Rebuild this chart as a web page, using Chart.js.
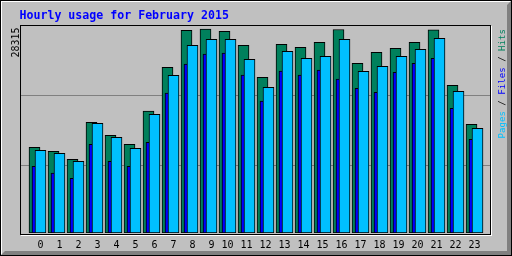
<!DOCTYPE html>
<html>
<head>
<meta charset="utf-8">
<script src="https://cdn.jsdelivr.net/npm/chart.js@4/dist/chart.umd.min.js"></script>
<style>
html,body{margin:0;padding:0;background:#c0c0c0}
canvas{display:block}
</style>
</head>
<body>
<canvas id="hourChart" width="512" height="256"></canvas>
<script>

/* ---------------- DATA ---------------- */

const hours = ["0","1","2","3","4","5","6","7","8","9","10","11","12","13","14","15","16","17","18","19","20","21","22","23"]

const hits = [11895,11340,10230,15365,13561,12312,16934,23000,28135,28315,27996,26053,21611,26192,25775,26469,28250,23554,25081,25636,26469,28200,20501,15088]
const files = [9258,8328,7592,12312,9952,9258,12589,19432,23457,24845,24984,21930,18322,22486,21930,22624,21375,20084,19529,22305,23554,24248,17308,13006]
const pages = [11479,11062,9952,15226,13283,11756,16476,21889,26053,26886,26886,24110,20223,25220,24248,24526,26886,22444,23138,24526,25497,27024,19668,14532]

const maxLabel = "28315"
const titleText = "Hourly usage for February 2015"


/* ---------------- COLOURS ---------------- */

const GRAY = "#c0c0c0"
const SHADOW = "#808080"
const HIT_COLOR = "#00805c"
const FILE_COLOR = "#0000ff"
const PAGE_COLOR = "#00c0ff"

const MONO = "'DejaVu Sans Mono', monospace"


/* bars sit 3px apart inside a 19px hour slot */
const SHIFT = 3/19

function points(values, shift){
return values.map((v,i)=>({x:i+shift,y:v}))
}


/* ---------------- FRAME PLUGIN ---------------- */

const framePlugin = {
id:"frame",

beforeDraw(chart){
const ctx = chart.ctx
ctx.save()
ctx.fillStyle = GRAY
ctx.fillRect(0,0,512,256)

// outer bevel
ctx.fillStyle = "#000"
ctx.fillRect(0,0,512,1)
ctx.fillRect(0,0,1,256)
ctx.fillRect(511,0,1,256)
ctx.fillRect(0,255,512,1)
ctx.fillStyle = "#fff"
ctx.fillRect(1,1,510,1)
ctx.fillRect(1,1,1,254)

ctx.fillStyle = SHADOW
ctx.beginPath()
ctx.moveTo(511,1); ctx.lineTo(511,255); ctx.lineTo(507,255); ctx.lineTo(507,5)
ctx.closePath(); ctx.fill()
ctx.beginPath()
ctx.moveTo(1,255); ctx.lineTo(511,255); ctx.lineTo(511,251); ctx.lineTo(5,251)
ctx.closePath(); ctx.fill()

// plot box
ctx.fillStyle = "#fff"
ctx.fillRect(21,235,471,1)
ctx.fillRect(491,26,1,210)
ctx.fillStyle = "#000"
ctx.fillRect(20,25,471,1)
ctx.fillRect(20,25,1,210)
ctx.fillRect(20,234,471,1)
ctx.fillRect(490,25,1,210)

// grid lines at thirds
ctx.fillStyle = SHADOW
ctx.fillRect(21,95,469,1)
ctx.fillRect(21,165,469,1)

// title
ctx.fillStyle = FILE_COLOR
ctx.font = "bold 11.6px " + MONO
ctx.textBaseline = "alphabetic"
ctx.textAlign = "left"
ctx.fillText(titleText,19.5,19)

// max value, rotated
ctx.save()
ctx.translate(19,57.5)
ctx.rotate(-Math.PI/2)
ctx.fillStyle = "#000"
ctx.font = "10px " + MONO
ctx.fillText(maxLabel,0,0)
ctx.restore()

// legend, rotated
ctx.save()
ctx.translate(504.5,138.5)
ctx.rotate(-Math.PI/2)
ctx.font = "9.1px " + MONO
const parts = [["Pages",PAGE_COLOR],[" / ","#000"],["Files",FILE_COLOR],[" / ","#000"],["Hits",HIT_COLOR]]
let x = 0
parts.forEach(p=>{
ctx.fillStyle = p[1]
ctx.fillText(p[0],x,0)
x += ctx.measureText(p[0]).width
})
ctx.restore()

ctx.restore()
}
}


/* ---------------- CHART ---------------- */

new Chart(document.getElementById("hourChart"),{
type:"bar",
data:{
datasets:[
{
label:"Hits",
data:points(hits,-SHIFT),
backgroundColor:HIT_COLOR,
order:3
},
{
label:"Files",
data:points(files,0),
backgroundColor:FILE_COLOR,
order:2
},
{
label:"Pages",
data:points(pages,SHIFT),
backgroundColor:PAGE_COLOR,
order:1
}
]
},
options:{
responsive:false,
animation:false,
devicePixelRatio:1,
layout:{padding:{left:21,top:26,right:23,bottom:0}},
datasets:{
bar:{
grouped:false,
barThickness:11,
borderWidth:1,
borderColor:"#000",
borderSkipped:false
}
},
plugins:{
legend:{display:false},
title:{display:false},
tooltip:{enabled:false}
},
scales:{
x:{
type:"linear",
offset:false,
min:-0.868,
max:23.763,
grid:{display:false,drawTicks:false},
border:{display:false},
afterBuildTicks(scale){
scale.ticks = hours.map((h,i)=>({value:i}))
},
afterFit(scale){
scale.height = 23
},
ticks:{
autoSkip:false,
maxRotation:0,
padding:6,
color:"#000",
font:{family:MONO,size:10},
callback:value=>hours[value].padStart(2," ")
}
},
y:{
display:false,
min:0,
max:28731
}
}
},
plugins:[framePlugin]
})

</script>
</body>
</html>
